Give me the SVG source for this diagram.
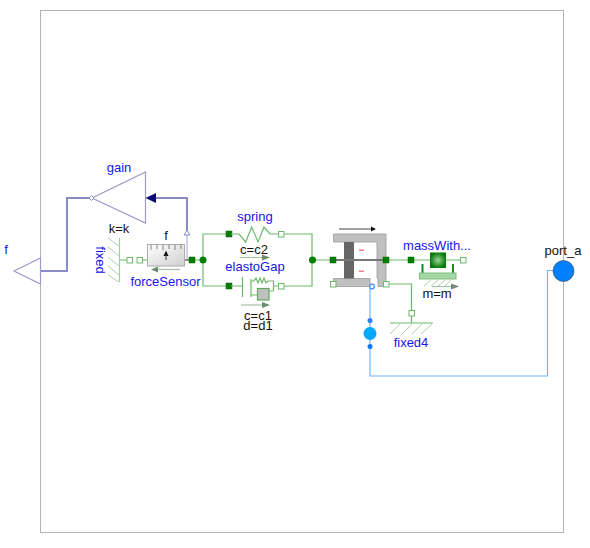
<svg xmlns="http://www.w3.org/2000/svg" width="590" height="548" viewBox="0 0 590 548">
<style>
text{font-family:"Liberation Sans",Arial,sans-serif;font-size:13px;text-anchor:middle}
.n{fill:#1414f0}.k{fill:#1a1008}
.g{fill:none;stroke:#6cb96c;stroke-width:1.2}
.lg{fill:none;stroke:#a8d5a8;stroke-width:1}
.bb{fill:none;stroke:#8a8ac4;stroke-width:2}
.w{fill:#fff;stroke:#6cb96c;stroke-width:1;width:5.500px;height:5.500px}
.f{fill:#008000;stroke:#0a6a0a;stroke-width:.5;width:6px;height:6px}
.d{fill:#008000}
.ar{fill:none;stroke:#a8c0a8;stroke-width:1.2}
.ah{fill:#6e8c6e}
</style>
<defs>
<linearGradient id="sens" x1="0" y1="0" x2="1" y2="1"><stop offset="0" stop-color="#ffffff"/><stop offset="1" stop-color="#cfcfcf"/></linearGradient>
<radialGradient id="mass"><stop offset="0" stop-color="#9ad89a"/><stop offset="1" stop-color="#067a06"/></radialGradient>
</defs>
<g id="frame"><rect x="40.500" y="10.500" width="523" height="522" fill="#fff" stroke="#b4b4b4" stroke-width="1"/></g>
<g id="connectors">
<path class="bb" d="M41 271H67V198H90"/>
<path class="bb" d="M156 198H187V231" stroke-width="1.6"/>
<path d="M187 235V260" stroke="#a4a4cf" fill="none"/>
<path class="g" d="M119 260H127M142 260H148"/>
<path d="M166 260H190" stroke="#333" fill="none"/>
<path class="g" d="M195 260H203M229 234H203V286H229M281 234H312V286H281M312 260H332"/>
<path class="g" d="M389 260H430M446 260H460"/>
<path class="g" d="M389 284H411.500V311"/>
<path fill="none" stroke="#70b4ff" stroke-width="1.200" d="M370 288V376H547.500V270.500H553"/>
</g>
<g id="f"><path d="M14 271L40.500 258V284Z" fill="#fff" stroke="#9a9acb" stroke-width="1.200"/><text class="n" x="6" y="254">f</text></g>
<g id="gain">
<path d="M92 198L145.500 172V223Z" fill="#fff" stroke="#9a9acb" stroke-width="1.200"/>
<path d="M89 198L91.500 195.500L94 198L91.500 200.500Z" fill="#fff" stroke="#8a8ac4"/>
<path d="M145.500 198L156 193V203Z" fill="#0a0a78"/>
<path d="M187 230L190 235H184Z" fill="#fff" stroke="#8a8ac4"/>
<text class="n" x="119" y="172">gain</text><text class="k" x="119" y="233">k=k</text>
</g>
<g id="fixed">
<path d="M119.500 238V282" fill="none" stroke="#9ccf9c" stroke-width="1.200"/>
<path class="lg" d="M119 246L108 238M119 256L108 247M119 266L108 257M119 275L108 266M119 282L108 275"/>
<text class="n" transform="translate(96 260) rotate(90)">fixed</text>
</g>
<g id="forceSensor">
<rect class="w" x="127" y="257.500"/><rect class="w" x="137" y="257.500"/>
<rect x="147.500" y="244.500" width="37" height="21.500" fill="url(#sens)" stroke="#aaa"/>
<path d="M151 245v5M157 245v4M163 245v5M169 245v4M175 245v5M181 245v4" stroke="#666" stroke-width=".8"/>
<path d="M163.500 256L166 250.500L168.500 256Z" fill="#111"/><path d="M166 255V260" stroke="#333"/>
<rect class="f" x="189" y="257"/>
<path class="ar" d="M156 269.500H180"/><path class="ah" d="M151 269.500L158 266.500V272.500Z"/>
<text class="k" x="166" y="240">f</text><text class="n" x="165.500" y="286">forceSensor</text>
</g>
<g id="junctions"><circle class="d" cx="203" cy="260" r="3.500"/><circle class="d" cx="312.500" cy="260" r="3.500"/></g>
<g id="spring">
<rect class="f" x="226" y="231"/><rect class="w" x="278.500" y="231.500"/>
<path class="g" d="M231 234H239L245.700 242L251.700 227L258 242L264 227L270 234H278"/>
<path class="ar" d="M240 257.500H263"/><path class="ah" d="M270 257.500L262 254.500V260.500Z"/>
<text class="n" x="255" y="221">spring</text><text class="k" x="254" y="254">c=c2</text>
</g>
<g id="elastoGap">
<rect class="f" x="226" y="283"/><rect class="w" x="278.500" y="283.500"/>
<path class="g" d="M231 286H242.500M242.500 277V297M251 279V297M251 281H254L256 278L258 283L260 278L262 283L264 278L266 283L268 281H273.500V291M251 295H257M269 291H273.500M273.500 286H279"/>
<rect x="257.500" y="288.500" width="11.500" height="11.500" fill="#c0c0c0" stroke="#5fa85f" stroke-width="1.200"/>
<path class="ar" d="M241 305H263"/><path class="ah" d="M270 305L262 302V308Z"/>
<text class="n" x="255" y="271">elastoGap</text><text class="k" x="258" y="320">c=c1</text><text class="k" x="258" y="330">d=d1</text>
</g>
<g id="clutch">
<path d="M333.500 234H386V286.500H378V278H377V242H333.500Z" fill="#c0c0c0" stroke="#999" stroke-width=".8"/>
<path d="M333.500 278.500H370V286.500H333.500Z" fill="#c0c0c0" stroke="#999" stroke-width=".8"/>
<rect x="344" y="242" width="10" height="36.500" fill="#666"/>
<rect x="333" y="259" width="53" height="2" fill="#777"/>
<rect x="359" y="249.500" width="5" height="1.500" fill="#f08080"/><rect x="359" y="270.500" width="5" height="1.500" fill="#f08080"/>
<path d="M339 229H372" stroke="#444" fill="none"/><path d="M376 229L371 226.500V231.500Z" fill="#111"/>
<rect class="f" x="330" y="257"/><rect class="f" x="383" y="257"/>
<rect class="w" x="330.500" y="281.500"/><rect class="w" x="383.500" y="281.500"/>
<circle cx="372" cy="286.500" r="2.300" fill="#fff" stroke="#3a8cff" stroke-width="1.200"/>
</g>
<g id="massWithStopAndFriction">
<rect class="f" x="408" y="257"/>
<rect x="430" y="252.500" width="16" height="15.500" fill="url(#mass)"/>
<rect x="421.500" y="264" width="2" height="9" fill="#1d8a1d"/><rect x="452" y="264" width="2" height="9" fill="#1d8a1d"/>
<rect x="419.500" y="273" width="36.500" height="6" fill="#a5d8a5" stroke="#7ebd7e"/>
<path class="lg" d="M424 286L431 280M431 286L438 280M438 286L445 280M445 286L451 280"/>
<rect class="w" x="460.500" y="257.500"/>
<path class="ar" d="M432 286.500H452"/><path class="ah" d="M459 286.500L451 283.500V289.500Z"/>
<text class="n" x="437" y="250">massWith...</text><text class="k" x="437" y="298">m=m</text>
</g>
<g id="fixed4">
<rect class="w" x="409" y="310.500"/>
<path class="g" d="M411.500 316V323"/><path class="g" d="M390 323H433"/>
<path class="lg" d="M390 334L400 324M402 334L412 324M412 334L422 324M421 334L432 324"/>
<text class="n" x="411" y="347">fixed4</text>
</g>
<g id="sensorBlue">
<circle cx="370" cy="320.500" r="2.500" fill="#2a80f0"/><circle cx="370" cy="333.500" r="6.500" fill="#00a8ff"/><circle cx="370" cy="346.500" r="2.500" fill="#0a78f0"/>
</g>
<g id="port_a"><circle cx="563.500" cy="271" r="10.500" fill="#0080ff" stroke="#404040" stroke-width=".6"/><text class="k" x="563" y="255">port_a</text></g>
</svg>
